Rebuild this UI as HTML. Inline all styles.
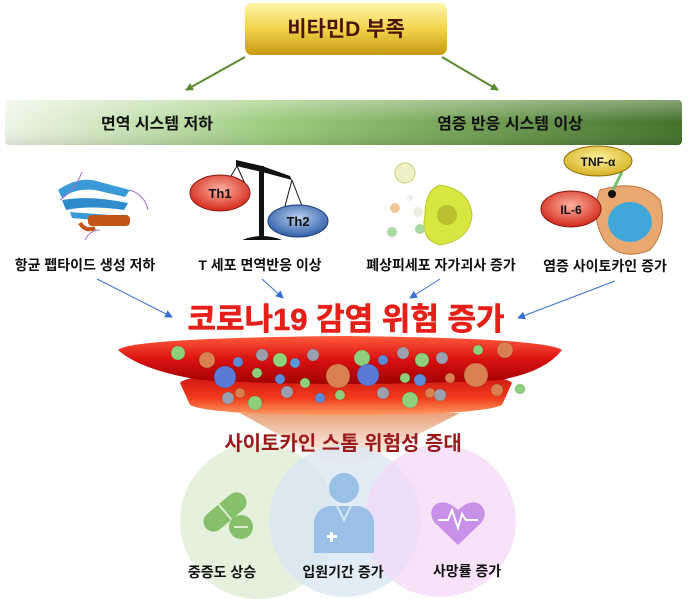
<!DOCTYPE html>
<html><head><meta charset="utf-8"><style>
html,body{margin:0;padding:0;background:#fff;width:700px;height:599px;overflow:hidden}
svg{display:block}
text{font-family:"Liberation Sans","Noto Sans CJK KR",sans-serif;font-weight:bold}
</style></head><body>
<svg width="700" height="599" viewBox="0 0 700 599" xmlns="http://www.w3.org/2000/svg">
<defs>
<linearGradient id="gold" x1="0" y1="0" x2="0" y2="1"><stop offset="0" stop-color="#fff6a8"/><stop offset="0.5" stop-color="#f2d34a"/><stop offset="1" stop-color="#c79a10"/></linearGradient>
<linearGradient id="band" x1="0" y1="0" x2="1" y2="0"><stop offset="0" stop-color="#eef6e6"/><stop offset="0.4" stop-color="#9ccb7c"/><stop offset="1" stop-color="#44712a"/></linearGradient>
<linearGradient id="bandv" x1="0" y1="0" x2="0" y2="1"><stop offset="0" stop-color="#fff" stop-opacity="0.35"/><stop offset="0.5" stop-color="#fff" stop-opacity="0"/><stop offset="1" stop-color="#000" stop-opacity="0.1"/></linearGradient>
<linearGradient id="red1" x1="0" y1="0" x2="0" y2="1"><stop offset="0" stop-color="#ff5a3a"/><stop offset="0.5" stop-color="#d81010"/><stop offset="1" stop-color="#a00000"/></linearGradient>
<linearGradient id="red2" x1="0" y1="0" x2="0" y2="1"><stop offset="0" stop-color="#c81010"/><stop offset="0.6" stop-color="#f03a1a"/><stop offset="1" stop-color="#ff9a60"/></linearGradient>
<linearGradient id="cone" x1="0" y1="0" x2="0" y2="1"><stop offset="0" stop-color="#e8a27a"/><stop offset="1" stop-color="#fff" stop-opacity="0.6"/></linearGradient>
<radialGradient id="rth1" cx="0.5" cy="0.4" r="0.6"><stop offset="0" stop-color="#ffb0a0"/><stop offset="1" stop-color="#d22a1a"/></radialGradient>
<radialGradient id="rth2" cx="0.5" cy="0.4" r="0.6"><stop offset="0" stop-color="#b8d0f0"/><stop offset="1" stop-color="#2f5ea8"/></radialGradient>
<radialGradient id="rtnf" cx="0.5" cy="0.4" r="0.6"><stop offset="0" stop-color="#fff3a0"/><stop offset="1" stop-color="#d6b020"/></radialGradient>
<marker id="ag" markerWidth="8" markerHeight="8" refX="7" refY="4" orient="auto" markerUnits="userSpaceOnUse"><path d="M0,0 L8,4 L0,8 z" fill="#5a8a30"/></marker>
<marker id="ab" markerWidth="8" markerHeight="8" refX="7" refY="4" orient="auto" markerUnits="userSpaceOnUse"><path d="M0,0 L8,4 L0,8 z" fill="#3a6fd0"/></marker>
</defs>

<rect x="245" y="3" width="202" height="52" rx="7" fill="url(#gold)"/>
<text x="346" y="36" font-size="21" fill="#4a1408" text-anchor="middle">비타민D 부족</text>
<line x1="245" y1="57" x2="186" y2="90" stroke="#5a8a30" stroke-width="2" marker-end="url(#ag)"/>
<line x1="442" y1="57" x2="498" y2="90" stroke="#5a8a30" stroke-width="2" marker-end="url(#ag)"/>

<rect x="5" y="100" width="677" height="45" rx="4" fill="url(#band)"/>
<rect x="5" y="100" width="677" height="45" rx="4" fill="url(#bandv)"/>
<text x="157" y="129" font-size="16" fill="#111" text-anchor="middle">면역 시스템 저하</text>
<text x="510" y="129" font-size="16" fill="#111" text-anchor="middle">염증 반응 시스템 이상</text>

<g>
<path d="M58,190 Q80,175 100,182 L130,190 L125,197 L95,190 Q75,188 62,198 Z" fill="#3a9ad8"/>
<path d="M62,200 Q90,195 128,203 L124,210 Q90,205 66,210 Z" fill="#2f8ccc"/>
<path d="M70,212 L110,215 L106,221 L72,218 Z" fill="#3a9ad8"/>
<rect x="88" y="215" width="42" height="11" rx="4" fill="#c2561a"/>
<path d="M80,223 Q85,232 95,228" stroke="#c2561a" stroke-width="4" fill="none"/>
<path d="M82,172 Q75,190 60,200 M130,190 Q145,195 148,210 M85,240 Q90,230 100,230" stroke="#a070c0" stroke-width="1" fill="none"/>
</g>
<g>
<path d="M236,160 L262,166 L290,176 L292,180 L262,172 L236,166 Z" fill="#111"/>
<rect x="259" y="166" width="5" height="72" fill="#111"/>
<path d="M242,240 Q262,232 282,240 Z" fill="#111"/>
<line x1="237" y1="166" x2="225" y2="186" stroke="#111"/><line x1="237" y1="166" x2="246" y2="186" stroke="#111"/>
<line x1="292" y1="180" x2="285" y2="206" stroke="#111"/><line x1="292" y1="180" x2="302" y2="206" stroke="#111"/>
<ellipse cx="220" cy="193" rx="30" ry="18" fill="url(#rth1)" stroke="#8a1a10"/>
<text x="220" y="198" font-size="13" fill="#111" text-anchor="middle">Th1</text>
<ellipse cx="298" cy="221" rx="30" ry="16" fill="url(#rth2)" stroke="#1a3a7a"/>
<text x="298" y="226" font-size="13" fill="#111" text-anchor="middle">Th2</text>
</g>
<g>
<path d="M440,185 Q470,190 472,215 Q470,240 440,245 Q420,240 425,215 Q425,190 440,185 Z" fill="#d8e640" stroke="#b8c830"/>
<circle cx="447" cy="215" r="10" fill="#b8c030"/>
<circle cx="405" cy="173" r="10" fill="#f0f0c8" stroke="#c8d070"/>
<circle cx="395" cy="208" r="5" fill="#f0c890"/><circle cx="410" cy="198" r="3" fill="#eee"/>
<circle cx="418" cy="212" r="5" fill="#eed"/><circle cx="420" cy="229" r="5" fill="#a8d8a0"/><circle cx="392" cy="232" r="5" fill="#a8d8a0"/>
</g>
<g>
<path d="M600,190 Q640,178 660,200 Q668,230 650,250 Q620,262 604,240 Q590,215 600,190 Z" fill="#e8a870" stroke="#b87840"/>
<ellipse cx="630" cy="222" rx="22" ry="20" fill="#40a8d8"/>
<circle cx="612" cy="194" r="4" fill="#111"/>
<line x1="613" y1="190" x2="622" y2="172" stroke="#70c070" stroke-width="3"/>
<ellipse cx="598" cy="161" rx="34" ry="15" fill="url(#rtnf)" stroke="#8a7010"/>
<text x="598" y="166" font-size="12" fill="#111" text-anchor="middle">TNF-α</text>
<ellipse cx="571" cy="209" rx="30" ry="18" fill="url(#rth1)" stroke="#8a1a10"/>
<text x="571" y="214" font-size="12" fill="#111" text-anchor="middle">IL-6</text>
</g>

<g font-size="14" fill="#111" text-anchor="middle">
<text x="85" y="270">항균 펩타이드 생성 저하</text>
<text x="260" y="270">T 세포 면역반응 이상</text>
<text x="441" y="270">폐상피세포 자가괴사 증가</text>
<text x="605" y="271">염증 사이토카인 증가</text>
</g>
<g stroke="#3a6fd0" stroke-width="1" marker-end="url(#ab)">
<line x1="97" y1="279" x2="172" y2="317"/>
<line x1="262" y1="279" x2="283" y2="298"/>
<line x1="440" y1="279" x2="410" y2="298"/>
<line x1="615" y1="281" x2="518" y2="318"/>
</g>
<text x="346" y="330" font-size="31" fill="#e52018" text-anchor="middle" stroke="#e52018" stroke-width="0.6">코로나19 감염 위험 증가</text>

<path d="M240,413 L460,413 L345,472 Z" fill="url(#cone)"/>
<path d="M180,383 Q185,372 345,372 Q505,372 512,383 L502,405 Q480,415 345,415 Q210,415 190,405 Z" fill="url(#red2)"/>
<path d="M118,350 Q130,338 345,336 Q545,338 562,350 Q545,372 500,380 Q345,388 200,380 Q140,370 118,350 Z" fill="url(#red1)"/>
<g stroke="#0003" stroke-width="0.5">
<circle cx="178" cy="353" r="7" fill="#8ed07a"/><circle cx="207" cy="360" r="8" fill="#d88050"/>
<circle cx="238" cy="362" r="5" fill="#5a8ad8"/><circle cx="262" cy="355" r="6" fill="#9aa0b0"/>
<circle cx="280" cy="360" r="7" fill="#8ed07a"/><circle cx="295" cy="363" r="5" fill="#5a9ad8"/>
<circle cx="313" cy="355" r="6" fill="#9aa0b0"/><circle cx="362" cy="358" r="8" fill="#8ed07a"/>
<circle cx="383" cy="360" r="5" fill="#5a8ad8"/><circle cx="403" cy="353" r="6" fill="#9aa0b0"/>
<circle cx="422" cy="360" r="7" fill="#8ed07a"/><circle cx="442" cy="358" r="6" fill="#9aa0b0"/>
<circle cx="505" cy="350" r="8" fill="#d88050"/><circle cx="478" cy="350" r="5" fill="#8ed07a"/>
<circle cx="225" cy="377" r="11" fill="#5a7ad8"/><circle cx="338" cy="376" r="12" fill="#d88050"/>
<circle cx="368" cy="375" r="11" fill="#5a7ad8"/><circle cx="476" cy="375" r="12" fill="#d88050"/>
<circle cx="257" cy="373" r="5" fill="#8ed07a"/><circle cx="280" cy="379" r="5" fill="#5a8ad8"/>
<circle cx="305" cy="383" r="5" fill="#8ed07a"/><circle cx="405" cy="378" r="5" fill="#8ed07a"/>
<circle cx="420" cy="380" r="6" fill="#5a8ad8"/><circle cx="450" cy="378" r="5" fill="#d88050"/>
<circle cx="240" cy="393" r="5" fill="#d88050"/><circle cx="228" cy="398" r="6" fill="#9aa0b0"/>
<circle cx="255" cy="403" r="7" fill="#8ed07a"/><circle cx="287" cy="392" r="6" fill="#9aa0b0"/>
<circle cx="320" cy="398" r="5" fill="#5a8ad8"/><circle cx="340" cy="395" r="5" fill="#8ed07a"/>
<circle cx="383" cy="393" r="6" fill="#9aa0b0"/><circle cx="410" cy="400" r="8" fill="#8ed07a"/>
<circle cx="430" cy="393" r="5" fill="#d88050"/><circle cx="440" cy="395" r="6" fill="#9aa0b0"/>
<circle cx="497" cy="390" r="6" fill="#d88050"/><circle cx="520" cy="389" r="5" fill="#8ed07a"/>
</g>

<circle cx="258" cy="521" r="78" fill="#dcebd2" fill-opacity="0.75"/>
<circle cx="345" cy="521" r="76" fill="#d8e6f4" fill-opacity="0.75"/>
<circle cx="440" cy="521" r="76" fill="#f4d8f8" fill-opacity="0.75"/>
<text x="343" y="450" font-size="20" fill="#9a1a1a" text-anchor="middle">사이토카인 스톰 위험성 증대</text>
<g transform="rotate(-40 225 512)"><rect x="200" y="502" width="50" height="20" rx="10" fill="#86c06a"/><line x1="225" y1="502" x2="225" y2="522" stroke="#dcebd2" stroke-width="2"/></g>
<circle cx="241" cy="527" r="12" fill="#86c06a"/><line x1="234" y1="527" x2="248" y2="527" stroke="#dcebd2" stroke-width="2"/>
<circle cx="344" cy="488" r="15" fill="#9ac0e8"/>
<path d="M314,553 L314,522 Q316,508 330,506 L358,506 Q372,508 374,522 L374,553 Z" fill="#9ac0e8"/>
<path d="M337,506 L344,520 L351,506" stroke="#d8e6f4" stroke-width="2" fill="none"/>
<rect x="327" y="535" width="10" height="3" fill="#fff"/><rect x="330" y="532" width="3" height="10" fill="#fff"/>
<path d="M458,545 L434,522 Q428,512 435,505 Q445,498 458,510 Q471,498 481,505 Q488,512 482,522 Z" fill="#c890e8"/>
<path d="M438,520 L448,520 L452,510 L458,528 L462,514 L466,520 L478,520" stroke="#fff" stroke-width="2" fill="none"/>
<g font-size="14" fill="#111" text-anchor="middle">
<text x="222" y="577">중증도 상승</text>
<text x="343" y="577">입원기간 증가</text>
<text x="467" y="576">사망률 증가</text>
</g>
</svg>
</body></html>
